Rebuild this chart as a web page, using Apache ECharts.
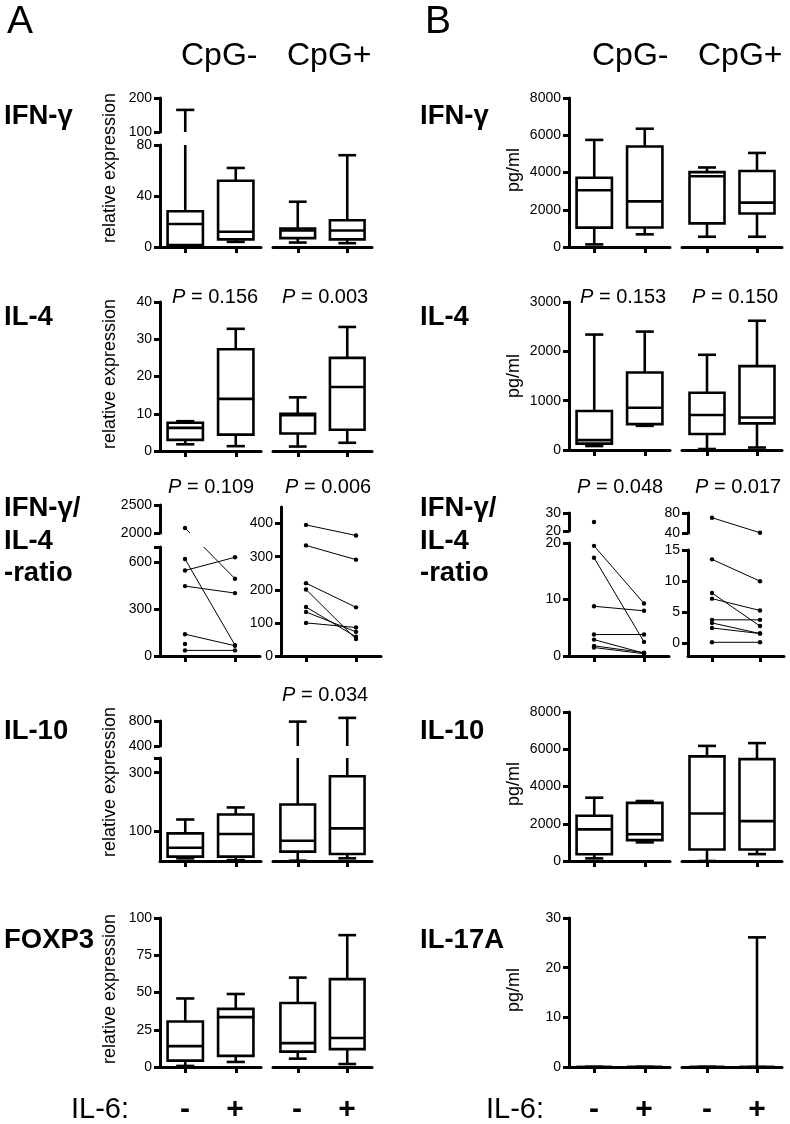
<!DOCTYPE html>
<html><head><meta charset="utf-8">
<script src="https://cdn.jsdelivr.net/npm/echarts@6/dist/echarts.min.js"></script>
<style>html,body{margin:0;padding:0;background:#fff}#c{width:790px;height:1124px}</style>
</head><body><div id="c"></div>
<script>
const FONT = "'Liberation Sans', Arial, Helvetica, sans-serif";

// ---------------- data ----------------
const panelLetters = ['A', 'B'];
const cpgGroups = ['CpG-', 'CpG+'];
const il6Levels = ['-', '+'];
const il6Label = 'IL-6:';
const rowLabelsA = ['IFN-γ', 'IL-4', ['IFN-γ/', 'IL-4', '-ratio'], 'IL-10', 'FOXP3'];
const rowLabelsB = ['IFN-γ', 'IL-4', ['IFN-γ/', 'IL-4', '-ratio'], 'IL-10', 'IL-17A'];
const yNameA = 'relative expression';
const yNameB = 'pg/ml';
const pA_IL4 = ['0.156', '0.003'];
const pA_ratio = ['0.109', '0.006'];
const pA_IL10 = [null, '0.034'];
const pB_IL4 = ['0.153', '0.150'];
const pB_ratio = ['0.048', '0.017'];

// box stats per IL-6 level (-, +): [min, Q1, median, Q3, max]
const A_IFNg_neg = [[0.5, 1.5, 18, 28, 165], [4, 6, 12, 52, 62]];
const A_IFNg_pos = [[3.5, 7, 13, 14.5, 35.5], [3, 6, 13, 21, 72]];
const A_IL4_neg = [[1.8, 3, 6.2, 7.6, 8], [1.3, 4.4, 14, 27.3, 32.8]];
const A_IL4_pos = [[1.2, 4.7, 9.6, 10, 14.4], [2.2, 5.7, 17.2, 25, 33.3]];
const A_IL10_neg = [[9, 15, 45, 94, 141], [3, 15, 92, 158, 182]];
const A_IL10_pos = [[1, 32, 69, 192, 790], [9, 24, 111, 288, 850]];
const A_FOXP3_neg = [[0.7, 4.3, 14, 30.5, 46], [3.4, 7.5, 33.5, 39, 49]];
const A_FOXP3_pos = [[5.6, 10.3, 16, 43, 60], [2, 12, 19.5, 59, 88.5]];
const B_IFNg_neg = [[140, 1040, 3050, 3720, 5750], [680, 1050, 2450, 5400, 6350]];
const B_IFNg_pos = [[550, 1270, 3800, 4020, 4270], [550, 1800, 2380, 4080, 5050]];
const B_IL4_neg = [[80, 130, 200, 790, 2340], [490, 525, 855, 1570, 2400]];
const B_IL4_pos = [[20, 325, 710, 1160, 1930], [50, 540, 660, 1700, 2620]];
const B_IL10_neg = [[140, 360, 1700, 2430, 3400], [1000, 1120, 1440, 3120, 3220]];
const B_IL10_pos = [[0, 620, 2550, 5620, 6180], [370, 620, 2140, 5470, 6330]];
const B_IL17A_neg = [[0, 0, 0, 0, 0], [0, 0, 0, 0, 0]];
const B_IL17A_pos = [[0, 0, 0, 0, 0], [0, 0, 0, 0, 26.1]];

// paired IFN-γ/IL-4 ratios: [IL-6 -, IL-6 +]
const A_ratio_neg = [[2090, 496], [623, 70], [549, 634], [449, 404], [140, 66], [77, null], [36, 36]];
const A_ratio_pos = [[396, 364], [334, 291], [220, 147], [201, 51], [148, 58], [133, 73], [100, 86]];
const B_ratio_neg = [[25, null], [19.5, 9.3], [17.4, 2.5], [8.8, 8.0], [3.8, 3.8], [2.9, 0.5], [1.8, 0.6], [1.5, 0.4]];
const B_ratio_pos = [[70.6, 40.5], [13.5, 10], [8.1, 2.8], [7.2, 5.3], [3.8, 3.8], [3.3, 1.6], [2.5, 1.6], [0.2, 0.2]];

// tick labels
const tA_IFNg_up = [100, 200], tA_IFNg_low = [0, 40, 80];
const tA_IL4 = [0, 10, 20, 30, 40];
const tA_ratio_up = [2000, 2500], tA_ratio_low = [0, 300, 600], tA_ratio_pos = [0, 100, 200, 300, 400];
const tA_IL10_up = [400, 800], tA_IL10_low = [100, 300];
const tA_FOXP3 = [0, 25, 50, 75, 100];
const tB_8000 = [0, 2000, 4000, 6000, 8000];
const tB_IL4 = [0, 1000, 2000, 3000];
const tB_ratio_neg_up = [20, 30], tB_ratio_neg_low = [0, 10, 20];
const tB_ratio_pos_up = [40, 80], tB_ratio_pos_low = [0, 5, 10, 15];
const tB_IL17A = [0, 10, 20, 30];

// ---------------- chart ----------------
const chart = echarts.init(document.getElementById('c'), null, {renderer: 'canvas', width: 790, height: 1124});
const grids = [], xAxes = [], yAxes = [], series = [], graphics = [];
const AX = {color: '#000', width: 3};
const LW = 2.6;

function addGrid(o) {
  const gi = grids.length;
  grids.push({left: o.l, top: o.t, width: o.r - o.l, height: o.b - o.t, containLabel: false, outerBoundsMode: 'none'});
  xAxes.push({type: 'category', gridIndex: gi, data: il6Levels, show: !!o.showX, boundaryGap: true,
    axisLine: {show: true, onZero: false, lineStyle: AX},
    axisTick: {show: true, alignWithLabel: true, interval: 0, length: 6, lineStyle: AX},
    axisLabel: {show: false}, splitLine: {show: false}});
  yAxes.push({type: 'value', gridIndex: gi, min: o.lo, max: o.hi, show: !!o.showY,
    axisLine: {show: true, onZero: false, lineStyle: AX},
    axisTick: {show: true, length: 6, lineStyle: AX, customValues: o.ticks || o.labels},
    axisLabel: {show: true, customValues: o.labels, formatter: v => String(v), fontSize: 14, fontFamily: FONT, color: '#000', margin: 8},
    splitLine: {show: false}});
  return gi;
}

function addBoxes(gi, stats, lo, hi) {
  series.push({type: 'custom', xAxisIndex: gi, yAxisIndex: gi, silent: true, animation: false, clip: false,
    data: stats.map((s, i) => [i].concat(s)),
    encode: {x: 0, y: [1, 2, 3, 4, 5]},
    renderItem(params, api) {
      const i = api.value(0);
      const mn = api.value(1), q1 = api.value(2), md = api.value(3), q3 = api.value(4), mx = api.value(5);
      const band = api.size([1, 0])[0];
      const cx = api.coord([i, 0])[0];
      const Y = v => api.coord([i, Math.max(lo, Math.min(hi, v))])[1];
      const inR = v => v >= lo && v <= hi;
      const bw = band * 0.7, cw = band * 0.36;
      const st = {stroke: '#000', lineWidth: LW, fill: null};
      const ch = [];
      if (mx > lo && q3 < hi) ch.push({type: 'line', shape: {x1: cx, y1: Y(q3), x2: cx, y2: Y(mx)}, style: st});
      if (inR(mx)) ch.push({type: 'line', shape: {x1: cx - cw / 2, y1: Y(mx), x2: cx + cw / 2, y2: Y(mx)}, style: st});
      if (q1 > lo && mn < hi) ch.push({type: 'line', shape: {x1: cx, y1: Y(mn), x2: cx, y2: Y(q1)}, style: st});
      if (inR(mn)) ch.push({type: 'line', shape: {x1: cx - cw / 2, y1: Y(mn), x2: cx + cw / 2, y2: Y(mn)}, style: st});
      if (q3 >= lo && q1 <= hi) {
        const y3 = Y(q3), y1 = Y(q1);
        ch.push({type: 'rect', shape: {x: cx - bw / 2, y: y3, width: bw, height: y1 - y3},
          style: {fill: '#fff', stroke: '#000', lineWidth: LW}});
      }
      if (inR(md)) ch.push({type: 'line', shape: {x1: cx - bw / 2, y1: Y(md), x2: cx + bw / 2, y2: Y(md)}, style: st});
      return {type: 'group', children: ch};
    }});
}

function makeBoxRow(groupsX, segs, stats) {
  groupsX.forEach((gx, g) => {
    segs.forEach((s, k) => {
      const broken = segs.length > 1;
      const isUpper = broken && k === 0, isLower = broken && k === segs.length - 1;
      const gi = addGrid({l: gx[0], r: gx[1], t: s.t, b: s.b, lo: s.lo, hi: s.hi,
        showY: g === 0, showX: k === segs.length - 1, labels: s.labels, ticks: s.ticks});
      addBoxes(gi, stats[g], isUpper ? s.lo : -Infinity, isLower ? s.hi : Infinity);
    });
  });
}

function makeRatio(gx, segs, pairs) {
  let giUp = null, upLo = null;
  const low = segs[segs.length - 1];
  if (segs.length > 1) {
    const u = segs[0];
    giUp = addGrid({l: gx[0], r: gx[1], t: u.t, b: u.b, lo: u.lo, hi: u.hi, showY: true, showX: false, labels: u.labels, ticks: u.ticks});
    upLo = u.lo;
  }
  const giLow = addGrid({l: gx[0], r: gx[1], t: low.t, b: low.b, lo: low.lo, hi: low.hi, showY: true, showX: true, labels: low.labels, ticks: low.ticks});
  const lowHi = segs.length > 1 ? low.hi : Infinity;
  series.push({type: 'custom', xAxisIndex: giLow, yAxisIndex: giLow, silent: true, animation: false, clip: false,
    data: pairs.map(p => [0, p[0], p[1] == null ? '-' : p[1]]),
    encode: {x: 0, y: [1, 2]},
    renderItem(params, api) {
      const a = api.value(1), b = api.value(2);
      const X0 = api.coord([0, 0])[0], X1 = api.coord([1, 0])[0];
      const isUp = v => giUp != null && v > lowHi;
      const py = v => isUp(v) ? chart.convertToPixel({yAxisIndex: giUp}, v) : api.coord([0, v])[1];
      const ls = {stroke: '#000', lineWidth: 1};
      const ch = [];
      const pts = [];
      if (!isNaN(a)) pts.push({x: X0, y: py(a), up: isUp(a)});
      if (!isNaN(b)) pts.push({x: X1, y: py(b), up: isUp(b)});
      if (pts.length === 2) {
        const P = pts[0], Q = pts[1];
        if (P.up === Q.up) {
          ch.push({type: 'line', shape: {x1: P.x, y1: P.y, x2: Q.x, y2: Q.y}, style: ls});
        } else {
          const U = P.up ? P : Q, L = P.up ? Q : P;
          const yUb = chart.convertToPixel({yAxisIndex: giUp}, upLo);
          const yLt = api.coord([0, lowHi])[1];
          const xAt = y => U.x + (L.x - U.x) * (y - U.y) / (L.y - U.y);
          ch.push({type: 'line', shape: {x1: U.x, y1: U.y, x2: xAt(yUb), y2: yUb}, style: ls});
          ch.push({type: 'line', shape: {x1: xAt(yLt), y1: yLt, x2: L.x, y2: L.y}, style: ls});
        }
      }
      pts.forEach(p => ch.push({type: 'circle', shape: {cx: p.x, cy: p.y, r: 2.2}, style: {fill: '#000'}}));
      return {type: 'group', children: ch};
    }});
}

// layout
const gA = [[160, 261], [273, 372]];
const gB = [[569, 670], [682, 782]];

makeBoxRow(gA, [{lo: 100, hi: 200, t: 98, b: 132, labels: tA_IFNg_up},
                {lo: 0, hi: 80, t: 145, b: 247, labels: tA_IFNg_low}], [A_IFNg_neg, A_IFNg_pos]);
makeBoxRow(gA, [{lo: 0, hi: 40, t: 302, b: 451, labels: tA_IL4}], [A_IL4_neg, A_IL4_pos]);
makeRatio([160, 260], [{lo: 2000, hi: 2500, t: 505, b: 533, labels: tA_ratio_up},
                       {lo: 0, hi: 700, t: 547, b: 656, labels: tA_ratio_low, ticks: tA_ratio_low.concat([700])}], A_ratio_neg);
makeRatio([281, 381], [{lo: 0, hi: 450, t: 507, b: 656, labels: tA_ratio_pos}], A_ratio_pos);
makeBoxRow(gA, [{lo: 400, hi: 800, t: 721, b: 746, labels: tA_IL10_up},
                {lo: 0, hi: 350, t: 758, b: 861, labels: tA_IL10_low, ticks: tA_IL10_low.concat([350])}], [A_IL10_neg, A_IL10_pos]);
makeBoxRow(gA, [{lo: 0, hi: 100, t: 918, b: 1067, labels: tA_FOXP3}], [A_FOXP3_neg, A_FOXP3_pos]);

makeBoxRow(gB, [{lo: 0, hi: 8000, t: 98, b: 247, labels: tB_8000}], [B_IFNg_neg, B_IFNg_pos]);
makeBoxRow(gB, [{lo: 0, hi: 3000, t: 302, b: 450, labels: tB_IL4}], [B_IL4_neg, B_IL4_pos]);
makeRatio([569, 669], [{lo: 20, hi: 30, t: 513, b: 531, labels: tB_ratio_neg_up},
                       {lo: 0, hi: 20, t: 543, b: 656, labels: tB_ratio_neg_low}], B_ratio_neg);
makeRatio([688, 784], [{lo: 40, hi: 80, t: 513, b: 533, labels: tB_ratio_pos_up},
                       {lo: -2, hi: 15, t: 550, b: 656, labels: tB_ratio_pos_low}], B_ratio_pos);
makeBoxRow(gB, [{lo: 0, hi: 8000, t: 712, b: 861, labels: tB_8000}], [B_IL10_neg, B_IL10_pos]);
makeBoxRow(gB, [{lo: 0, hi: 30, t: 918, b: 1067, labels: tB_IL17A}], [B_IL17A_neg, B_IL17A_pos]);

// text
function txt(text, x, y, size, o) {
  o = o || {};
  return {type: 'text', x: x, y: y, rotation: o.rot || 0, silent: true, z: 100,
    style: {text: text, fontSize: size, fontFamily: FONT, fontWeight: o.weight || 'normal', fontStyle: 'normal',
      fill: '#000', textAlign: o.align || 'left', textVerticalAlign: o.valign || 'middle', rich: o.rich}};
}
function pTxt(val, x, y) {
  if (val == null) return;
  graphics.push(txt('{i|P} = ' + val, x, y, 20, {rich: {i: {fontStyle: 'italic', fontSize: 20, fontFamily: FONT, fill: '#000'}}}));
}
graphics.push(txt(panelLetters[0], 7, 22, 39));
graphics.push(txt(panelLetters[1], 425, 22, 39));
[[181, 287], [592, 698]].forEach(xs => xs.forEach((x, k) => graphics.push(txt(cpgGroups[k], x, 56, 32))));

const rowY = [116, 317, [508, 541, 573], 731, 940];
function rowLabels(labels, x) {
  labels.forEach((lab, r) => {
    if (Array.isArray(lab)) lab.forEach((l, j) => graphics.push(txt(l, x, rowY[r][j], 27.5, {weight: 'bold'})));
    else graphics.push(txt(lab, x, rowY[r], 27.5, {weight: 'bold'}));
  });
}
rowLabels(rowLabelsA, 4);
rowLabels(rowLabelsB, 420);

[168, 374, 782, 989].forEach(y => graphics.push(txt(yNameA, 110, y, 18, {rot: Math.PI / 2, align: 'center'})));
[170, 376, 784, 990].forEach(y => graphics.push(txt(yNameB, 514, y, 18, {rot: Math.PI / 2, align: 'center'})));

pTxt(pA_IL4[0], 172, 297); pTxt(pA_IL4[1], 282, 297);
pTxt(pA_ratio[0], 168, 487); pTxt(pA_ratio[1], 285, 487);
pTxt(pA_IL10[0], 172, 695); pTxt(pA_IL10[1], 282, 695);
pTxt(pB_IL4[0], 580, 297); pTxt(pB_IL4[1], 692, 297);
pTxt(pB_ratio[0], 577, 487); pTxt(pB_ratio[1], 695, 487);

graphics.push(txt(il6Label, 71, 1110, 29));
graphics.push(txt(il6Label, 486, 1110, 29));
[[185, 235, 297, 347], [594, 644, 707, 757]].forEach(xs => xs.forEach((x, k) =>
  graphics.push(txt(il6Levels[k % 2], x, 1110, 30, {weight: 'bold', align: 'center'}))));

chart.setOption({
  animation: false,
  backgroundColor: '#fff',
  textStyle: {fontFamily: FONT},
  grid: grids, xAxis: xAxes, yAxis: yAxes, series: series,
  graphic: {elements: graphics}
});
</script></body></html>
